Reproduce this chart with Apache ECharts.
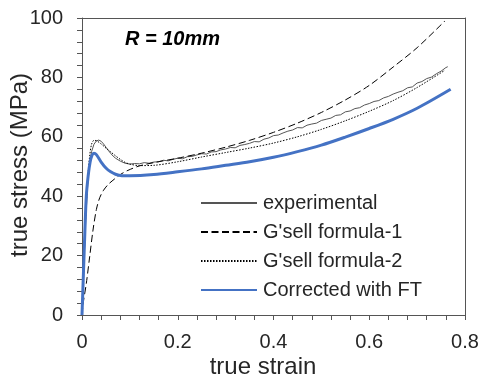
<!DOCTYPE html>
<html>
<head>
<meta charset="utf-8">
<script src="https://cdn.jsdelivr.net/npm/echarts@6/dist/echarts.min.js"></script>
<style>
  html, body { margin: 0; padding: 0; background: #fff; }
  #chart { width: 481px; height: 380px; }
</style>
</head>
<body>
<div id="chart"></div>
<script>
// values (strain, stress MPa)
const expStrain = [0, 0.004, 0.008, 0.012, 0.016, 0.02, 0.025, 0.03, 0.035, 0.04, 0.045, 0.05, 0.055, 0.06, 0.065, 0.07, 0.08, 0.09,
  0.10, 0.11, 0.12, 0.13, 0.14, 0.15, 0.16, 0.17, 0.18, 0.19, 0.20, 0.21, 0.22, 0.23, 0.24, 0.25, 0.26, 0.27, 0.28, 0.29,
  0.30, 0.31, 0.32, 0.33, 0.34, 0.35, 0.36, 0.37, 0.38, 0.39, 0.40, 0.41, 0.42, 0.43, 0.44, 0.45, 0.46, 0.47, 0.48, 0.49,
  0.50, 0.51, 0.52, 0.53, 0.54, 0.55, 0.56, 0.57, 0.58, 0.59, 0.60, 0.61, 0.62, 0.63, 0.64, 0.65, 0.66, 0.67, 0.68, 0.69,
  0.70, 0.71, 0.72, 0.73, 0.74, 0.75, 0.76, 0.764];
const expStress = [0, 17, 33, 44, 51, 55, 57.5, 58.6, 58.9, 58.5, 57.6, 56.5, 55.4, 54.4, 53.5, 52.8, 51.8, 51.1,
  50.8, 51.0, 50.9, 51.3, 51.1, 51.5, 51.6, 52.1, 51.9, 52.4, 52.8, 52.6, 53.3, 53.4, 53.9, 54.3, 54.2, 54.9, 55.0, 55.6,
  55.9, 56.4, 56.3, 57.1, 57.4, 57.8, 58.4, 58.3, 59.2, 59.6, 60.4, 60.6, 61.3, 61.9, 62.3, 63.1, 63.0, 63.9, 64.3, 64.6,
  65.5, 65.9, 66.3, 67.2, 67.4, 68.4, 68.7, 69.5, 69.8, 70.7, 71.2, 71.9, 72.2, 73.1, 73.6, 74.4, 75.0, 75.5, 76.5, 76.8,
  78.1, 78.6, 79.6, 80.1, 81.2, 82.1, 83.3, 83.6];

const f1Strain = [0, 0.003, 0.009, 0.016, 0.023, 0.03, 0.037, 0.045, 0.055, 0.068, 0.08, 0.096, 0.12, 0.15, 0.2, 0.25, 0.3,
  0.35, 0.4, 0.45, 0.5, 0.55, 0.6, 0.65, 0.7, 0.758];
const f1Stress = [0, 4.5, 10.6, 19.6, 28.6, 35.5, 39.5, 42, 44, 45.8, 47.3, 48.7, 50.2, 51.3, 52.8, 54.5, 56.5,
  58.8, 61.5, 64.6, 68.2, 72.4, 77.3, 83.5, 90, 99];

const f2Strain = [0, 0.004, 0.008, 0.012, 0.016, 0.02, 0.025, 0.03, 0.04, 0.05, 0.06, 0.07, 0.08, 0.09, 0.1, 0.12, 0.15,
  0.2, 0.25, 0.3, 0.35, 0.4, 0.45, 0.5, 0.55, 0.6, 0.65, 0.7, 0.758];
const f2Stress = [0, 18, 34, 46, 53.5, 57.5, 58.8, 58.7, 57.6, 56.2, 54.9, 53.6, 52.4, 51.4, 50.8, 50.3, 50.4,
  51.6, 53.2, 54.7, 56.2, 57.9, 60, 62.5, 65.4, 68.6, 72.2, 76.6, 82.4];

const ftStrain = [0, 0.003, 0.006, 0.009, 0.013, 0.017, 0.021, 0.025, 0.03, 0.04, 0.05, 0.06, 0.07, 0.08, 0.1, 0.15,
  0.2, 0.25, 0.3, 0.35, 0.4, 0.45, 0.5, 0.55, 0.6, 0.65, 0.7, 0.77];
const ftStress = [0, 14, 28, 40, 47, 51.5, 53.8, 54.5, 54, 51.5, 49.5, 48.2, 47.4, 47, 46.9, 47.3,
  48.2, 49.2, 50.4, 51.6, 53.1, 55, 57.2, 59.9, 62.8, 65.9, 69.6, 76];

const seriesNames = ['experimental', "G'sell formula-1", "G'sell formula-2", 'Corrected with FT'];

const zip = (xs, ys) => xs.map((x, i) => [x, ys[i]]);
const font = '"Liberation Sans", Arial, sans-serif';
const frame = '#555';
const textColor = '#262626';

// bare copies of the axes on the top and right close the frame
const frameAxis = extra => Object.assign({
  axisLine: { show: true, onZero: false, lineStyle: { color: frame } },
  axisTick: { show: false }, axisLabel: { show: false }, splitLine: { show: false }
}, extra);

const chart = echarts.init(document.getElementById('chart'));
chart.setOption({
  animation: false,
  grid: { left: 82, right: 16, top: 18, bottom: 65, outerBoundsMode: 'none', containLabel: false },
  legend: {
    orient: 'vertical', left: 200, top: 193, padding: 0,
    itemWidth: 56, itemHeight: 14, itemGap: 9,
    itemStyle: { opacity: 0 },
    textStyle: { fontFamily: font, fontSize: 20, color: textColor, padding: [0, 0, 0, 1] },
    data: seriesNames
  },
  graphic: [
    { type: 'text', left: 125, top: 29,
      style: { text: 'R = 10mm', font: 'italic bold 20px "Liberation Sans", Arial, sans-serif', fill: '#000' } },
    { type: 'text', x: 20, y: 165, rotation: Math.PI / 2,
      style: { text: 'true stress (MPa)', font: '24px "Liberation Sans", Arial, sans-serif', fill: textColor,
        align: 'center', verticalAlign: 'middle' } },
    { type: 'text', x: 263, y: 367,
      style: { text: 'true strain', font: '24px "Liberation Sans", Arial, sans-serif', fill: textColor,
        align: 'center', verticalAlign: 'middle' } }
  ],
  xAxis: [{
    type: 'value', min: 0, max: 0.8, interval: 0.2, position: 'bottom',
    axisLine: { show: true, onZero: false, lineStyle: { color: frame } },
    axisTick: { show: true, inside: false, length: 5, lineStyle: { color: frame, width: 1 } },
    minorTick: { show: true, splitNumber: 5, length: 5, lineStyle: { color: frame, width: 1 } },
    axisLabel: { margin: 17, fontFamily: font, fontSize: 20, color: textColor, formatter: v => String(+v.toFixed(1)) },
    splitLine: { show: false }
  }, frameAxis({ type: 'value', min: 0, max: 0.8, position: 'top' })],
  yAxis: [{
    type: 'value', min: 0, max: 100, interval: 20, position: 'left',
    axisLine: { show: true, onZero: false, lineStyle: { color: frame } },
    axisTick: { show: true, inside: false, length: 5, lineStyle: { color: frame, width: 1 } },
    minorTick: { show: true, splitNumber: 5, length: 5, lineStyle: { color: frame, width: 1 } },
    axisLabel: { margin: 19, fontFamily: font, fontSize: 20, color: textColor },
    splitLine: { show: false }
  }, frameAxis({ type: 'value', min: 0, max: 100, position: 'right' })],
  series: [
    { name: seriesNames[0], type: 'line', data: zip(expStrain, expStress), symbol: 'none',
      lineStyle: { color: '#555', width: 1 }, itemStyle: { color: '#555' } },
    { name: seriesNames[1], type: 'line', data: zip(f1Strain, f1Stress), symbol: 'none', smooth: 0.3,
      lineStyle: { color: '#000', width: 1, type: [7, 3.5] }, itemStyle: { color: '#000' } },
    { name: seriesNames[2], type: 'line', data: zip(f2Strain, f2Stress), symbol: 'none', smooth: 0.3,
      lineStyle: { color: '#000', width: 1, type: [1.5, 1.5] }, itemStyle: { color: '#000' } },
    { name: seriesNames[3], type: 'line', data: zip(ftStrain, ftStress), symbol: 'none', smooth: 0.3,
      lineStyle: { color: '#4472C4', width: 3 }, itemStyle: { color: '#4472C4' } }
  ]
});
</script>
</body>
</html>
